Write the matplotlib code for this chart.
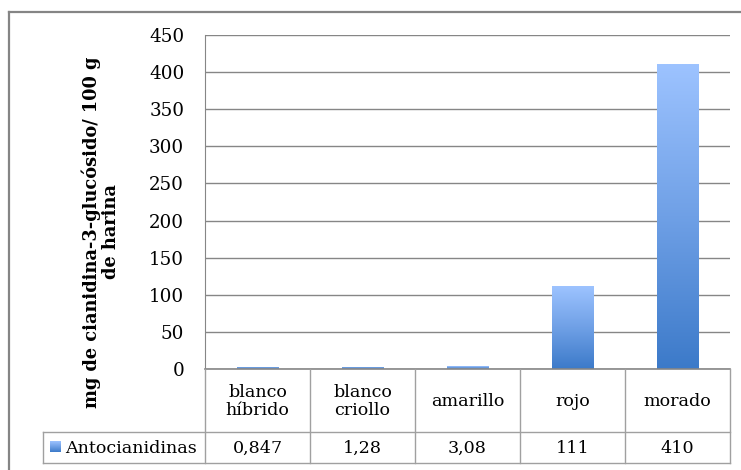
import numpy as np
import matplotlib
matplotlib.use("Agg")
import matplotlib.pyplot as plt
from matplotlib.colors import LinearSegmentedColormap
from matplotlib.patches import Rectangle

categories = ["blanco\nhíbrido", "blanco\ncriollo", "amarillo", "rojo", "morado"]
values = [0.847, 1.28, 3.08, 111, 410]
value_labels = ["0,847", "1,28", "3,08", "111", "410"]
series_name = "Antocianidinas"
y_ticks = [0, 50, 100, 150, 200, 250, 300, 350, 400, 450]
y_label = "mg de cianidina-3-glucósido/ 100 g\nde harina"

W, H = 741, 470
fig = plt.figure(figsize=(W / 100, H / 100), dpi=100)
FONT = "DejaVu Serif"
FS = 12.6

def fx(px):
    return px / W

def fy(py):
    return 1 - py / H

# Outer frame (right/bottom cut off)
fig.add_artist(plt.Line2D([fx(9), fx(9)], [fy(12), fy(470)], color="#858585", lw=1.6))
fig.add_artist(plt.Line2D([fx(9), fx(741)], [fy(12), fy(12)], color="#858585", lw=1.6))

left_px, right_px, top_px, bot_px = 205, 730, 35, 369
ax = fig.add_axes([fx(left_px), fy(bot_px), fx(right_px - left_px), (bot_px - top_px) / H])
n = len(categories)
ax.set_xlim(-0.5, n - 0.5)
ax.set_ylim(0, 450)
ax.set_yticks(y_ticks)
ax.set_yticklabels([str(t) for t in y_ticks], fontfamily=FONT, fontsize=FS + 0.6)
ax.tick_params(axis="y", length=0, pad=15)
ax.set_xticks([])
for s in ["top", "right", "bottom"]:
    ax.spines[s].set_visible(False)
ax.spines["left"].set_color("#868686")
ax.grid(axis="y", color="#868686", lw=1.0)
ax.set_axisbelow(True)

cmap = LinearSegmentedColormap.from_list("g", ["#3C7AC9", "#6FA0E6", "#9DC3FF"])
grad = np.linspace(0, 1, 256).reshape(-1, 1)
bw = 0.4
for i, v in enumerate(values):
    ax.imshow(grad, cmap=cmap, origin="lower", aspect="auto",
              extent=[i - bw / 2, i + bw / 2, 0, v], zorder=3, interpolation="bilinear")
    if v < 5:
        ax.add_patch(Rectangle((i - bw / 2, 0), bw, 3.2, color="#6A9BDD", zorder=4, lw=0))
ax.set_xlim(-0.5, n - 0.5)
ax.set_ylim(0, 450)

fig.text(fx(101), fy(232), y_label, rotation=90, ha="center", va="center",
         fontfamily=FONT, fontsize=FS + 0.2, fontweight="bold", linespacing=1.1,
         multialignment="center")

# Table
tab_left, tab_mid, tab_bot = 43, 432, 463
unit = (right_px - left_px) / n
xl = -0.5 - (left_px - tab_left) / unit
tx = fig.add_axes([fx(tab_left), fy(tab_bot), fx(right_px - tab_left), (tab_bot - bot_px) / H])
tx.axis("off")
lc = "#A0A0A0"
tx.plot([-0.5, n - 0.5], [bot_px, bot_px], color="#868686", lw=1.2, clip_on=False)
tx.plot([xl, n - 0.5], [tab_mid, tab_mid], color=lc, lw=1.0, clip_on=False)
tx.plot([xl, n - 0.5], [tab_bot, tab_bot], color=lc, lw=1.0, clip_on=False)
for k in range(n + 1):
    tx.plot([k - 0.5, k - 0.5], [bot_px, tab_bot], color=lc, lw=1.0, clip_on=False)
tx.plot([xl, xl], [tab_mid, tab_bot], color=lc, lw=1.0, clip_on=False)

for i, c in enumerate(categories):
    tx.text(i, (bot_px + tab_mid) / 2 + 1, c, ha="center", va="center",
            fontfamily=FONT, fontsize=FS, linespacing=1.15)
    tx.text(i, (tab_mid + tab_bot) / 2 + 1, value_labels[i], ha="center", va="center",
            fontfamily=FONT, fontsize=FS)

# legend key
ppx = (right_px - tab_left) / (n - 0.5 - xl)
kx0 = xl + (50 - tab_left) / ppx
kw = 10.5 / ppx
tx.imshow(grad, cmap=cmap, origin="lower", aspect="auto",
          extent=[kx0, kx0 + kw, 452, 441.5], zorder=3)
tx.set_xlim(xl, n - 0.5)
tx.set_ylim(tab_bot, bot_px)
tx.text(xl + (65 - tab_left) / ppx, (tab_mid + tab_bot) / 2 + 1, series_name,
        ha="left", va="center", fontfamily=FONT, fontsize=FS)

fig.savefig("out.png", dpi=100)
